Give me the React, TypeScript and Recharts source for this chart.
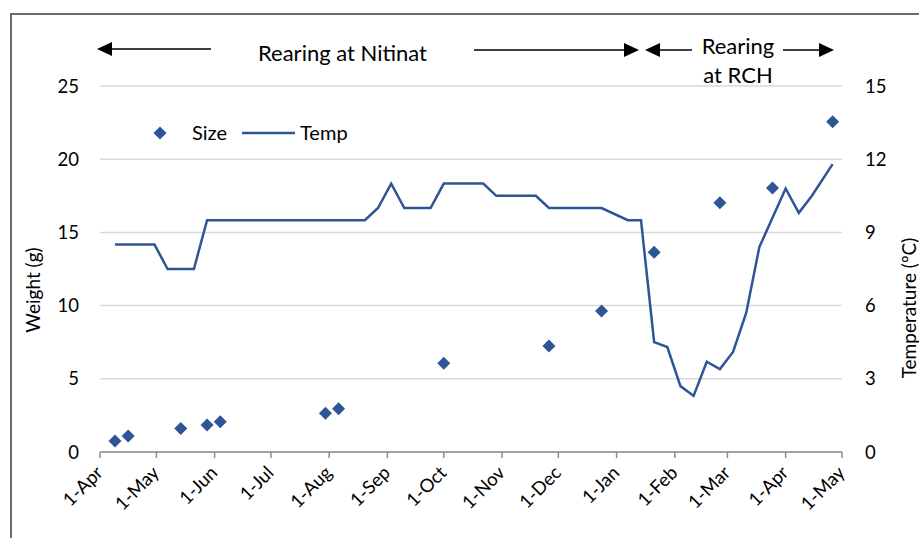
import React from 'react';
import { ComposedChart, Line, Scatter, XAxis, YAxis, CartesianGrid } from 'recharts';

// fish size samples (g)
const sizeDates = [
  '2013-04-09', '2013-04-16', '2013-05-14', '2013-05-28', '2013-06-04', '2013-07-30', '2013-08-06',
  '2013-10-01', '2013-11-26', '2013-12-24', '2014-01-21', '2014-02-25', '2014-03-25', '2014-04-26',
];
const sizeValues = [0.75, 1.1, 1.6, 1.85, 2.07, 2.64, 2.96, 6.06, 7.24, 9.63, 13.64, 17.03, 18.03, 22.56];

// water temperature (°C)
const tempDates = [
  '2013-04-09', '2013-04-30', '2013-05-07', '2013-05-21', '2013-05-28', '2013-08-20', '2013-08-27',
  '2013-09-03', '2013-09-10', '2013-09-24', '2013-10-01', '2013-10-22', '2013-10-29', '2013-11-19',
  '2013-11-26', '2013-12-24', '2014-01-07', '2014-01-14', '2014-01-21', '2014-01-28', '2014-02-04',
  '2014-02-11', '2014-02-18', '2014-02-25', '2014-03-04', '2014-03-11', '2014-03-18', '2014-03-25',
  '2014-04-01', '2014-04-08', '2014-04-15', '2014-04-26',
];
const tempValues = [
  8.5, 8.5, 7.5, 7.5, 9.5, 9.5, 10, 11, 10, 10, 11, 11, 10.5, 10.5,
  10, 10, 9.5, 9.5, 4.5, 4.3, 2.7, 2.3, 3.7, 3.4, 4.1, 5.7, 8.4, 9.6,
  10.8, 9.8, 10.5, 11.8,
];

const tickDates = [
  '2013-04-01', '2013-05-01', '2013-06-01', '2013-07-01', '2013-08-01', '2013-09-01', '2013-10-01',
  '2013-11-01', '2013-12-01', '2014-01-01', '2014-02-01', '2014-03-01', '2014-04-01', '2014-05-01',
];
const tickLabels = [
  '1-Apr', '1-May', '1-Jun', '1-Jul', '1-Aug', '1-Sep', '1-Oct',
  '1-Nov', '1-Dec', '1-Jan', '1-Feb', '1-Mar', '1-Apr', '1-May',
];

const weightTicks = [0, 5, 10, 15, 20, 25];
const tempTicks = [0, 3, 6, 9, 12, 15];

const START = Date.UTC(2013, 3, 1);
const dayOf = (d: string) => Math.round((new Date(d + 'T00:00:00Z').getTime() - START) / 86400000);

const sizeData = sizeDates.map((d, i) => ({ day: dayOf(d), w: sizeValues[i] }));
const tempData = tempDates.map((d, i) => ({ day: dayOf(d), t: tempValues[i] }));
const tickDays = tickDates.map(dayOf);

const BLUE = '#2F5597';
const FONT = 'Lato, "Open Sans", sans-serif';

const Diamond = (props: any) => {
  const { cx, cy } = props;
  const r = 6.5;
  return <polygon points={`${cx},${cy - r} ${cx + r},${cy} ${cx},${cy + r} ${cx - r},${cy}`} fill={BLUE} />;
};

const DateTick = (props: any) => {
  const { x, y, payload } = props;
  const i = tickDays.indexOf(payload.value);
  const tx = x + 4;
  const ty = y + 14;
  return (
    <text x={tx} y={ty} textAnchor="end" fontSize={18.5} fill="#000" fontFamily={FONT}
      transform={`rotate(-45, ${tx}, ${ty})`}>
      {tickLabels[i]}
    </text>
  );
};

const Arrow = ({ x1, x2, y }: { x1: number; x2: number; y: number }) => {
  // arrow from x1 (tail) to x2 (tip)
  const dir = x2 > x1 ? 1 : -1;
  const base = x2 - dir * 15;
  return (
    <g>
      <line x1={x1} y1={y} x2={base} y2={y} stroke="#000" strokeWidth={1.5} />
      <polygon points={`${x2},${y} ${base},${y - 7} ${base},${y + 7}`} fill="#000" />
    </g>
  );
};

export default function App() {
  return (
    <div style={{ position: 'absolute', left: 0, top: 0, width: 919, height: 538, overflow: 'hidden', background: '#fff' }}>
      <div style={{ position: 'absolute', left: 10, top: 13, width: 1000, height: 700, border: '2px solid #6b6b6b' }} />
      <div style={{ position: 'absolute', left: 0, top: 0 }}>
        <ComposedChart width={919} height={538} margin={{ top: 86, right: 37, bottom: 26, left: 60 }}>
          <CartesianGrid yAxisId="left" vertical={false} stroke="#D9D9D9" strokeWidth={1.5} />
          <XAxis
            type="number"
            dataKey="day"
            domain={[0, 395]}
            ticks={tickDays}
            interval={0}
            height={60}
            axisLine={{ stroke: '#8c8c8c', strokeWidth: 1.5 }}
            tickLine={{ stroke: '#8c8c8c', strokeWidth: 1.5 }}
            tickSize={6}
            tick={<DateTick />}
          />
          <YAxis
            yAxisId="left"
            domain={[0, 25]}
            ticks={weightTicks}
            width={40}
            axisLine={false}
            tickLine={false}
            tickSize={0}
            tickMargin={21}
            tick={{ fontSize: 18.5, fill: '#000', fontFamily: FONT }}
          />
          <YAxis
            yAxisId="right"
            orientation="right"
            domain={[0, 15]}
            ticks={tempTicks}
            width={40}
            axisLine={false}
            tickLine={false}
            tickSize={0}
            tickMargin={23}
            tick={{ fontSize: 18.5, fill: '#000', fontFamily: FONT, textAnchor: 'start' }}
          />
          <Line
            yAxisId="right"
            data={tempData}
            dataKey="t"
            type="linear"
            stroke={BLUE}
            strokeWidth={2.5}
            dot={false}
            isAnimationActive={false}
          />
          <Scatter
            yAxisId="left"
            data={sizeData}
            dataKey="w"
            shape={<Diamond />}
            isAnimationActive={false}
          />
        </ComposedChart>
      </div>
      <svg width={919} height={538} style={{ position: 'absolute', left: 0, top: 0, pointerEvents: 'none' }} fontFamily={FONT}>
        {/* period annotations */}
        <Arrow x1={211} x2={97} y={49} />
        <text x={258} y={61} fontSize={22} fill="#000">Rearing at Nitinat</text>
        <Arrow x1={474} x2={639} y={50} />
        <Arrow x1={692} x2={645} y={50} />
        <text x={738} y={54} fontSize={22} fill="#000" textAnchor="middle">Rearing</text>
        <text x={738} y={83} fontSize={22} fill="#000" textAnchor="middle">at RCH</text>
        <Arrow x1={783} x2={834} y={50} />
        {/* legend */}
        <Diamond cx={160} cy={133} />
        <text x={192} y={140} fontSize={20} fill="#000">Size</text>
        <line x1={242} y1={133} x2={295} y2={133} stroke={BLUE} strokeWidth={2.5} />
        <text x={300} y={140} fontSize={20} fill="#000">Temp</text>
        {/* axis titles */}
        <text x={40} y={290} fontSize={19} fill="#000" textAnchor="middle" transform="rotate(-90, 40, 290)">Weight (g)</text>
        <text x={916} y={308} fontSize={19} fill="#000" textAnchor="middle" transform="rotate(-90, 916, 308)">Temperature (ºC)</text>
      </svg>
    </div>
  );
}
